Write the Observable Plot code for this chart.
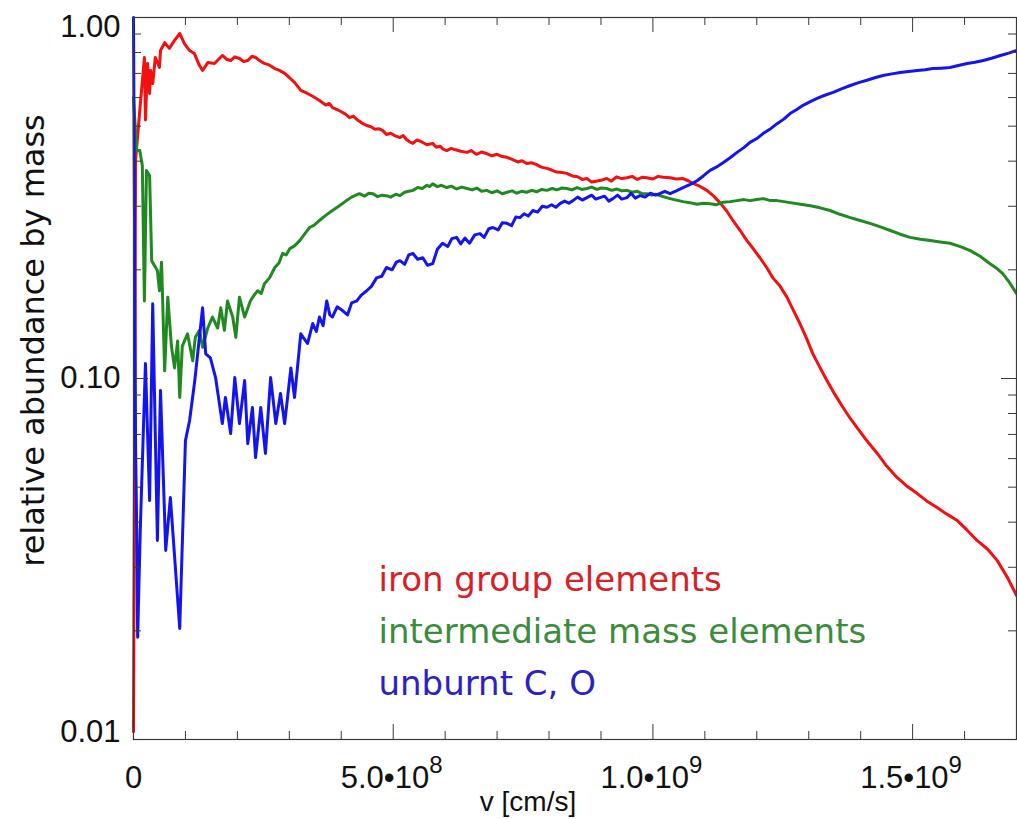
<!DOCTYPE html>
<html><head><meta charset="utf-8">
<script src="https://cdn.jsdelivr.net/npm/d3@7"></script>
<script src="https://cdn.jsdelivr.net/npm/@observablehq/plot@0.6"></script>
<style>
body{margin:0;background:#fff;}
#chart{width:1017px;height:819px;}
</style></head><body><div id="chart"></div>
<script>
// velocity in units of 1e8 cm/s, relative abundance by mass
const iron = [[0,0.0105],[0.04,0.402],[0.12,0.55],[0.21,0.775],[0.23,0.52],[0.27,0.746],[0.31,0.616],[0.33,0.713],[0.37,0.656],[0.42,0.775],[0.50,0.727],[0.52,0.81],[0.60,0.852],[0.69,0.821],[0.79,0.864],[0.89,0.903],[0.98,0.847],[1.08,0.81],[1.17,0.795],[1.27,0.736],[1.33,0.713],[1.43,0.750],[1.56,0.746],[1.71,0.785],[1.80,0.765],[1.87,0.76],[1.95,0.778],[2.04,0.77],[2.12,0.755],[2.20,0.76],[2.28,0.781],[2.35,0.775],[2.44,0.758],[2.52,0.746],[2.62,0.738],[2.72,0.722],[2.80,0.715],[2.91,0.70],[3.00,0.682],[3.10,0.661],[3.22,0.628],[3.35,0.616],[3.45,0.605],[3.58,0.589],[3.70,0.572],[3.77,0.578],[3.83,0.563],[3.92,0.556],[4.00,0.548],[4.08,0.540],[4.16,0.528],[4.23,0.533],[4.30,0.522],[4.40,0.510],[4.49,0.502],[4.57,0.498],[4.65,0.490],[4.73,0.492],[4.80,0.486],[4.87,0.474],[4.95,0.478],[5.04,0.470],[5.13,0.465],[5.19,0.471],[5.25,0.460],[5.32,0.452],[5.38,0.448],[5.46,0.458],[5.55,0.452],[5.65,0.444],[5.76,0.448],[5.83,0.437],[5.90,0.440],[5.96,0.432],[6.03,0.428],[6.12,0.434],[6.20,0.430],[6.30,0.426],[6.42,0.423],[6.50,0.428],[6.60,0.418],[6.70,0.424],[6.80,0.420],[6.90,0.414],[7.00,0.418],[7.10,0.412],[7.19,0.410],[7.30,0.404],[7.40,0.398],[7.48,0.401],[7.57,0.394],[7.66,0.396],[7.75,0.392],[7.85,0.385],[7.96,0.382],[8.05,0.378],[8.15,0.373],[8.25,0.372],[8.34,0.370],[8.45,0.364],[8.55,0.362],[8.64,0.356],[8.73,0.358],[8.82,0.350],[8.90,0.352],[9.00,0.354],[9.11,0.358],[9.20,0.352],[9.30,0.362],[9.40,0.358],[9.50,0.360],[9.60,0.363],[9.70,0.356],[9.80,0.361],[9.88,0.360],[10.00,0.357],[10.10,0.363],[10.20,0.361],[10.33,0.360],[10.45,0.357],[10.58,0.358],[10.68,0.353],[10.77,0.347],[10.90,0.341],[11.04,0.332],[11.17,0.320],[11.29,0.307],[11.42,0.291],[11.54,0.274],[11.68,0.257],[11.81,0.241],[11.94,0.228],[12.06,0.216],[12.19,0.203],[12.31,0.19],[12.45,0.180],[12.58,0.168],[12.70,0.155],[12.83,0.142],[12.95,0.130],[13.08,0.117],[13.22,0.107],[13.35,0.0987],[13.50,0.0905],[13.66,0.0831],[13.80,0.0775],[13.93,0.0731],[14.12,0.0672],[14.32,0.062],[14.50,0.0572],[14.70,0.0532],[14.90,0.0502],[15.09,0.048],[15.27,0.0458],[15.47,0.0439],[15.66,0.0421],[15.86,0.0404],[16.05,0.0380],[16.24,0.0356],[16.45,0.0336],[16.63,0.0313],[16.82,0.0282],[17.0,0.0251]];

const intermediate = [[0,0.60],[0.06,0.428],[0.12,0.428],[0.17,0.389],[0.21,0.164],[0.25,0.377],[0.31,0.365],[0.35,0.212],[0.40,0.206],[0.46,0.199],[0.50,0.175],[0.54,0.21],[0.60,0.105],[0.66,0.168],[0.73,0.123],[0.79,0.107],[0.85,0.127],[0.89,0.0886],[0.94,0.123],[1.04,0.133],[1.14,0.112],[1.19,0.13],[1.27,0.136],[1.33,0.122],[1.43,0.138],[1.52,0.148],[1.62,0.138],[1.68,0.157],[1.75,0.136],[1.81,0.164],[1.91,0.148],[1.97,0.13],[2.04,0.168],[2.14,0.148],[2.25,0.164],[2.32,0.170],[2.39,0.175],[2.46,0.172],[2.52,0.183],[2.62,0.190],[2.72,0.203],[2.80,0.209],[2.87,0.222],[2.94,0.220],[3.01,0.229],[3.10,0.233],[3.20,0.241],[3.30,0.252],[3.39,0.262],[3.48,0.266],[3.58,0.274],[3.70,0.283],[3.83,0.292],[3.95,0.300],[4.10,0.311],[4.20,0.318],[4.28,0.322],[4.35,0.325],[4.45,0.320],[4.53,0.326],[4.61,0.325],[4.70,0.319],[4.78,0.322],[4.87,0.321],[4.95,0.318],[5.05,0.324],[5.13,0.321],[5.22,0.328],[5.30,0.330],[5.38,0.332],[5.47,0.338],[5.56,0.336],[5.65,0.343],[5.70,0.340],[5.76,0.346],[5.85,0.340],[5.93,0.343],[6.03,0.338],[6.12,0.341],[6.22,0.335],[6.32,0.339],[6.42,0.336],[6.52,0.333],[6.61,0.337],[6.70,0.330],[6.80,0.332],[6.90,0.327],[7.00,0.331],[7.10,0.325],[7.19,0.328],[7.29,0.331],[7.38,0.326],[7.47,0.330],[7.57,0.328],[7.67,0.332],[7.76,0.329],[7.86,0.334],[7.96,0.332],[8.06,0.336],[8.15,0.333],[8.25,0.337],[8.34,0.336],[8.44,0.333],[8.54,0.338],[8.63,0.334],[8.73,0.336],[8.82,0.339],[8.92,0.334],[9.01,0.337],[9.11,0.336],[9.21,0.332],[9.30,0.335],[9.40,0.331],[9.50,0.332],[9.60,0.328],[9.70,0.330],[9.79,0.325],[9.88,0.325],[9.98,0.322],[10.05,0.324],[10.13,0.321],[10.23,0.318],[10.33,0.315],[10.45,0.312],[10.58,0.309],[10.71,0.307],[10.85,0.304],[10.97,0.306],[11.10,0.305],[11.23,0.303],[11.36,0.308],[11.49,0.309],[11.62,0.311],[11.75,0.313],[11.87,0.311],[12.00,0.313],[12.13,0.315],[12.26,0.311],[12.39,0.311],[12.52,0.309],[12.64,0.307],[12.84,0.304],[13.03,0.301],[13.22,0.297],[13.41,0.292],[13.60,0.285],[13.80,0.279],[13.99,0.274],[14.18,0.269],[14.38,0.263],[14.57,0.257],[14.76,0.251],[14.95,0.246],[15.15,0.243],[15.34,0.241],[15.53,0.239],[15.72,0.237],[15.92,0.232],[16.11,0.226],[16.30,0.218],[16.49,0.208],[16.62,0.202],[16.74,0.195],[16.87,0.184],[17.0,0.172]];

const unburnt = [[0,1.0],[0.04,0.065],[0.06,0.04],[0.08,0.0192],[0.13,0.0379],[0.23,0.110],[0.31,0.0459],[0.37,0.161],[0.46,0.0356],[0.52,0.0927],[0.62,0.0334],[0.71,0.0468],[0.89,0.0203],[1.00,0.0673],[1.08,0.0765],[1.18,0.0987],[1.33,0.157],[1.39,0.117],[1.48,0.114],[1.58,0.1006],[1.71,0.075],[1.77,0.0886],[1.87,0.0704],[1.95,0.1006],[2.04,0.075],[2.14,0.0987],[2.20,0.066],[2.29,0.0831],[2.35,0.0604],[2.45,0.0831],[2.54,0.062],[2.64,0.1006],[2.74,0.075],[2.83,0.0909],[2.91,0.075],[3.03,0.107],[3.10,0.0886],[3.22,0.133],[3.35,0.125],[3.45,0.142],[3.52,0.135],[3.58,0.148],[3.65,0.140],[3.72,0.164],[3.78,0.150],[3.83,0.148],[3.92,0.158],[4.03,0.154],[4.12,0.150],[4.20,0.162],[4.30,0.164],[4.38,0.170],[4.49,0.175],[4.58,0.180],[4.68,0.19],[4.78,0.192],[4.87,0.203],[4.98,0.200],[5.06,0.210],[5.13,0.212],[5.22,0.207],[5.30,0.220],[5.38,0.222],[5.47,0.214],[5.57,0.216],[5.66,0.206],[5.76,0.208],[5.85,0.228],[5.95,0.237],[6.05,0.232],[6.13,0.244],[6.22,0.246],[6.30,0.236],[6.38,0.245],[6.47,0.237],[6.57,0.250],[6.67,0.252],[6.75,0.246],[6.84,0.260],[6.92,0.262],[7.02,0.258],[7.10,0.270],[7.19,0.269],[7.28,0.265],[7.36,0.280],[7.44,0.279],[7.52,0.286],[7.60,0.282],[7.69,0.292],[7.78,0.289],[7.87,0.300],[7.96,0.298],[8.05,0.303],[8.13,0.298],[8.21,0.305],[8.30,0.310],[8.38,0.306],[8.46,0.311],[8.55,0.318],[8.64,0.312],[8.73,0.317],[8.82,0.322],[8.90,0.314],[8.98,0.317],[9.07,0.320],[9.15,0.310],[9.23,0.315],[9.32,0.322],[9.40,0.314],[9.50,0.317],[9.58,0.326],[9.66,0.316],[9.75,0.321],[9.85,0.318],[9.95,0.326],[10.05,0.322],[10.13,0.325],[10.23,0.330],[10.33,0.325],[10.45,0.331],[10.58,0.338],[10.72,0.345],[10.85,0.353],[10.97,0.364],[11.10,0.377],[11.22,0.385],[11.35,0.396],[11.48,0.408],[11.62,0.423],[11.75,0.436],[11.87,0.451],[12.00,0.462],[12.12,0.477],[12.25,0.490],[12.39,0.508],[12.52,0.523],[12.64,0.542],[12.77,0.556],[12.89,0.571],[13.02,0.584],[13.16,0.597],[13.31,0.609],[13.47,0.620],[13.63,0.634],[13.80,0.648],[13.96,0.660],[14.12,0.67],[14.27,0.681],[14.43,0.691],[14.60,0.698],[14.76,0.704],[14.92,0.709],[15.09,0.713],[15.24,0.717],[15.39,0.722],[15.55,0.724],[15.72,0.727],[15.88,0.736],[16.05,0.746],[16.20,0.752],[16.36,0.76],[16.52,0.771],[16.69,0.785],[16.85,0.797],[17.0,0.81]];

const seriesNames = ["iron group elements", "intermediate mass elements", "unburnt C, O"];
const seriesData = [iron, intermediate, unburnt];
const lineColors = ["#f21010", "#1f8a1f", "#1414ee"];
const labelColors = ["#d92026", "#3b8c3b", "#2c22c4"];

const xMajorTicks = [0, 5, 10, 15];
const xMinorTicks = [1, 2, 3, 4, 6, 7, 8, 9, 11, 12, 13, 14, 16];
const xTickBase = ["0", "5.0•10", "1.0•10", "1.5•10"];
const xTickExp = ["", "8", "9", "9"];
const yMajorTicks = [0.01, 0.1, 1];
const yMinorTicks = [0.02,0.03,0.04,0.05,0.06,0.07,0.08,0.09,0.2,0.3,0.4,0.5,0.6,0.7,0.8,0.9];
const yTickLabels = ["0.01", "0.10", "1.00"];
const xTitle = "v [cm/s]";
const yTitle = "relative abundance by mass";

const W = 1017, H = 819, mL = 133, mR = 1, mT = 17, mB = 80;
const innerW = W - mL - mR, innerH = H - mT - mB;
const axisColor = "#3a3a3a";
const axisFont = "Liberation Sans, Arial, Helvetica, sans-serif";

const rows = seriesData.flatMap((s, i) => s.map(([v, a]) => ({v, a, name: seriesNames[i]})));

const xLab = xMajorTicks.map((t, i) => ({t, base: xTickBase[i], exp: xTickExp[i]}));
const yLab = yMajorTicks.map((t, i) => ({t, label: yTickLabels[i]}));

const marks = [
  ...seriesNames.map((n, i) => Plot.line(rows.filter(r => r.name === n), {x: "v", y: "a", stroke: lineColors[i], strokeWidth: 3, strokeLinejoin: "round"})),
  Plot.frame({stroke: axisColor, strokeWidth: 1.2}),
  // x ticks bottom & top (inward)
  Plot.tickX(xMajorTicks, {x: d => d, insetTop: innerH - 15, stroke: axisColor}),
  Plot.tickX(xMajorTicks, {x: d => d, insetBottom: innerH - 15, stroke: axisColor}),
  Plot.tickX(xMinorTicks, {x: d => d, insetTop: innerH - 8, stroke: axisColor}),
  Plot.tickX(xMinorTicks, {x: d => d, insetBottom: innerH - 8, stroke: axisColor}),
  // y ticks left & right (inward)
  Plot.tickY(yMajorTicks, {y: d => d, insetRight: innerW - 15, stroke: axisColor}),
  Plot.tickY(yMajorTicks, {y: d => d, insetLeft: innerW - 15, stroke: axisColor}),
  Plot.tickY(yMinorTicks, {y: d => d, insetRight: innerW - 8, stroke: axisColor}),
  Plot.tickY(yMinorTicks, {y: d => d, insetLeft: innerW - 8, stroke: axisColor}),
  // x tick labels
  Plot.text(xLab.filter(d => d.exp === ""), {x: "t", text: "base", frameAnchor: "bottom", lineAnchor: "bottom", dy: 48, fontSize: 31, fontFamily: axisFont, fill: "#111"}),
  Plot.text(xLab.filter(d => d.exp !== ""), {x: "t", text: "base", frameAnchor: "bottom", lineAnchor: "bottom", textAnchor: "end", dx: 36, dy: 48, fontSize: 31, fontFamily: axisFont, fill: "#111"}),
  Plot.text(xLab.filter(d => d.exp !== ""), {x: "t", text: "exp", frameAnchor: "bottom", lineAnchor: "bottom", textAnchor: "start", dx: 36, dy: 33, fontSize: 24, fontFamily: axisFont, fill: "#111"}),
  // y tick labels
  Plot.text(yLab.filter(d => d.t === 1), {y: "t", text: "label", frameAnchor: "left", textAnchor: "end", lineAnchor: "top", dx: -13, dy: -3, fontSize: 31, fontFamily: axisFont, fill: "#111"}),
  Plot.text(yLab.filter(d => d.t === 0.1), {y: "t", text: "label", frameAnchor: "left", textAnchor: "end", lineAnchor: "middle", dx: -13, fontSize: 31, fontFamily: axisFont, fill: "#111"}),
  Plot.text(yLab.filter(d => d.t === 0.01), {y: "t", text: "label", frameAnchor: "left", textAnchor: "end", lineAnchor: "bottom", dx: -13, dy: 2, fontSize: 31, fontFamily: axisFont, fill: "#111"}),
  // axis titles
  Plot.text([xTitle], {text: d => d, frameAnchor: "bottom", textAnchor: "middle", lineAnchor: "bottom", dx: -47, dy: 71, fontSize: 28, fontFamily: axisFont, fill: "#111"}),
  Plot.text([yTitle], {text: d => d, frameAnchor: "left", textAnchor: "middle", rotate: -90, lineAnchor: "middle", dx: -100, dy: -38, fontSize: 32, fontFamily: "DejaVu Sans, sans-serif", fill: "#111"}),
  // legend labels
  ...seriesNames.map((n, i) => Plot.text([n], {text: d => d, frameAnchor: "bottom-left", textAnchor: "start", lineAnchor: "bottom", dx: 245, dy: -149 + i * 52, fontSize: 34, fontFamily: "DejaVu Sans, sans-serif", fill: labelColors[i]}))
];

const chart = Plot.plot({
  width: W, height: H,
  marginLeft: mL, marginRight: mR, marginTop: mT, marginBottom: mB,
  x: {domain: [0, 17], axis: null},
  y: {type: "log", domain: [0.01, 1], axis: null},
  style: {background: "#fff", overflow: "visible"},
  marks
});
document.getElementById("chart").appendChild(chart);
</script>
</body></html>
